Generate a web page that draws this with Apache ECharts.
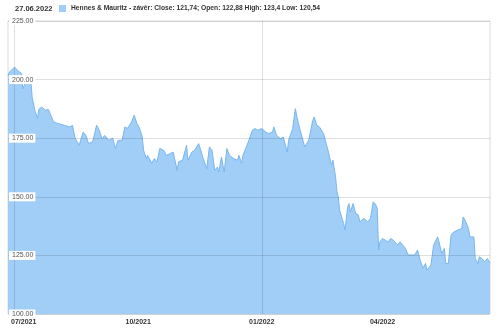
<!DOCTYPE html>
<html><head><meta charset="utf-8">
<script src="https://cdn.jsdelivr.net/npm/echarts@6/dist/echarts.min.js"></script>
<style>html,body{margin:0;padding:0;background:#fff}#c{width:500px;height:330px}</style>
</head><body><div id="c"></div>
<script>
const dates = ['2021-06-26','2021-06-27','2021-07-01','2021-07-03','2021-07-06','2021-07-07','2021-07-09','2021-07-11','2021-07-13','2021-07-14','2021-07-16','2021-07-18','2021-07-19','2021-07-21','2021-07-24','2021-07-26','2021-07-27','2021-07-30','2021-08-02','2021-08-07','2021-08-11','2021-08-13','2021-08-15','2021-08-16','2021-08-18','2021-08-21','2021-08-23','2021-08-25','2021-08-28','2021-08-31','2021-09-02','2021-09-04','2021-09-06','2021-09-09','2021-09-12','2021-09-14','2021-09-16','2021-09-19','2021-09-21','2021-09-23','2021-09-26','2021-09-28','2021-09-30','2021-10-02','2021-10-04','2021-10-05','2021-10-07','2021-10-08','2021-10-11','2021-10-13','2021-10-15','2021-10-17','2021-10-20','2021-10-22','2021-10-25','2021-10-27','2021-10-30','2021-10-31','2021-11-03','2021-11-06','2021-11-07','2021-11-10','2021-11-12','2021-11-15','2021-11-17','2021-11-18','2021-11-21','2021-11-23','2021-11-25','2021-11-27','2021-11-29','2021-11-30','2021-12-02','2021-12-04','2021-12-06','2021-12-08','2021-12-11','2021-12-14','2021-12-15','2021-12-17','2021-12-18','2021-12-20','2021-12-22','2021-12-25','2021-12-27','2021-12-29','2022-01-01','2022-01-04','2022-01-06','2022-01-09','2022-01-10','2022-01-12','2022-01-15','2022-01-17','2022-01-20','2022-01-21','2022-01-24','2022-01-26','2022-01-28','2022-01-31','2022-02-02','2022-02-05','2022-02-08','2022-02-09','2022-02-11','2022-02-13','2022-02-16','2022-02-18','2022-02-20','2022-02-21','2022-02-22','2022-02-23','2022-02-25','2022-02-26','2022-02-27','2022-02-28','2022-03-03','2022-03-04','2022-03-06','2022-03-07','2022-03-08','2022-03-10','2022-03-12','2022-03-14','2022-03-15','2022-03-18','2022-03-21','2022-03-23','2022-03-25','2022-03-27','2022-03-28','2022-03-29','2022-03-30','2022-04-01','2022-04-03','2022-04-05','2022-04-07','2022-04-09','2022-04-12','2022-04-14','2022-04-16','2022-04-18','2022-04-20','2022-04-23','2022-04-25','2022-04-27','2022-04-28','2022-04-29','2022-05-01','2022-05-03','2022-05-04','2022-05-07','2022-05-09','2022-05-12','2022-05-13','2022-05-15','2022-05-17','2022-05-18','2022-05-20','2022-05-22','2022-05-24','2022-05-27','2022-05-30','2022-05-31','2022-06-02','2022-06-04','2022-06-05','2022-06-08','2022-06-09','2022-06-11','2022-06-12','2022-06-14','2022-06-16','2022-06-18','2022-06-20'];
const closes = [201.8,203.2,205.3,204.0,202.6,196.0,199.0,200.5,199.7,192.5,186.9,183.5,187.3,188.3,186.9,187.3,186.0,181.9,181.3,180.5,179.8,180.5,175.0,174.0,172.0,177.6,176.2,172.7,173.4,180.5,178.4,174.8,176.2,174.1,175.0,170.7,174.1,174.1,179.8,179.2,181.9,184.8,181.2,179.2,175.5,169.8,166.3,167.7,164.3,166.3,164.9,170.6,169.8,167.7,168.5,169.1,161.3,164.9,165.6,172.0,165.6,169.1,169.8,172.7,169.1,167.0,162.0,171.3,169.8,161.3,162.7,160.6,167.0,160.6,170.6,167.7,166.3,165.6,167.7,164.2,167.7,170.6,173.4,178.4,179.1,178.4,179.1,177.6,177.0,177.6,179.8,176.2,174.8,175.5,169.1,174.1,179.1,187.6,181.9,175.5,171.3,174.1,182.6,184.0,180.5,179.8,177.0,172.7,168.4,165.6,163.5,165.6,158.5,152.1,150.0,144.3,138.6,135.8,145.7,147.1,143.6,147.1,142.9,142.2,139.3,140.8,139.3,140.8,147.9,146.5,145.1,127.3,130.8,132.2,131.5,130.8,132.2,131.5,129.4,130.8,129.4,128.0,125.2,125.2,125.2,127.3,126.6,123.0,119.5,121.6,118.7,120.9,129.4,132.9,130.8,125.8,128.0,121.6,121.6,133.6,135.0,135.8,136.5,141.4,139.3,136.5,132.9,132.9,123.7,121.6,124.4,123.7,122.3,123.7,121.74];
const xTicks = ['2021-07-01','2021-10-01','2022-01-01','2022-04-01'];
const vLines = ['2021-07-01','2022-01-01'];
const seriesName = 'Hennes & Mauritz - závěr: Close: 121,74; Open: 122,88 High: 123,4 Low: 120,54';
const titleText = '27.06.2022';
const yMin = 100, yMax = 225, yStep = 25;

const fill = '#a0cef7', edge = '#78b6ee';
const chart = echarts.init(document.getElementById('c'), null, {renderer:'canvas'});
const ts = s => { const p = s.split('-'); return new Date(+p[0], +p[1]-1, +p[2]).getTime(); };
const xMin = ts('2021-06-26'), xMax = ts('2022-06-20');
const lblFont = {fontSize:7,fontWeight:'bold',color:'#333',fontFamily:'Liberation Sans'};
chart.setOption({
  animation:false,
  title:{text:titleText,left:15,top:5,padding:0,textStyle:{fontSize:7.5,fontWeight:'bold',color:'#333',fontFamily:'Liberation Sans'}},
  legend:{left:59,top:5,padding:0,icon:'rect',itemWidth:7,itemHeight:7,itemGap:5,
    textStyle:{fontSize:6.7,fontWeight:'bold',color:'#333',fontFamily:'Liberation Sans'},
    data:[{name:seriesName,itemStyle:{color:fill}}]},
  grid:{left:8,right:10,top:21,bottom:16,show:true,borderColor:'#dcdcdc',borderWidth:1,containLabel:false},
  xAxis:[
    {type:'time',min:xMin,max:xMax,axisLine:{show:false},axisTick:{show:false},splitLine:{show:false},axisLabel:{show:false}},
    {type:'value',min:xMin,max:xMax,position:'bottom',axisLine:{show:false},axisTick:{show:false},splitLine:{show:false},
     axisLabel:Object.assign({customValues:xTicks.map(ts),margin:5,
      formatter:(v)=>{const d=new Date(v);const s=String(d.getMonth()+1).padStart(2,'0')+'/'+d.getFullYear();return (d.getMonth()===6&&d.getFullYear()===2021)?'{a|'+s+'}':s;},
      rich:{a:Object.assign({padding:[0,0,0,18]},lblFont)}},lblFont)}
  ],
  yAxis:{type:'value',min:yMin,max:yMax,interval:yStep,z:10,
    axisLine:{show:false},axisTick:{show:false},
    splitLine:{lineStyle:{color:'rgba(0,0,0,0.12)',width:1}},
    axisLabel:{inside:true,margin:1,fontSize:7,color:'#555',fontFamily:'Liberation Sans',
      backgroundColor:'#fff',padding:[1,2,1,3],formatter:v=>v.toFixed(2)}},
  series:[{name:seriesName,type:'line',symbol:'none',smooth:false,xAxisIndex:0,
    data:dates.map((d,i)=>[ts(d),closes[i]]),
    lineStyle:{color:edge,width:1},itemStyle:{color:fill},
    areaStyle:{color:fill,opacity:1},
    markLine:{silent:true,symbol:'none',label:{show:false},
      lineStyle:{color:'rgba(0,0,0,0.12)',type:'solid',width:1},
      data:vLines.map(d=>({xAxis:ts(d)}))}}]
});
</script></body></html>
